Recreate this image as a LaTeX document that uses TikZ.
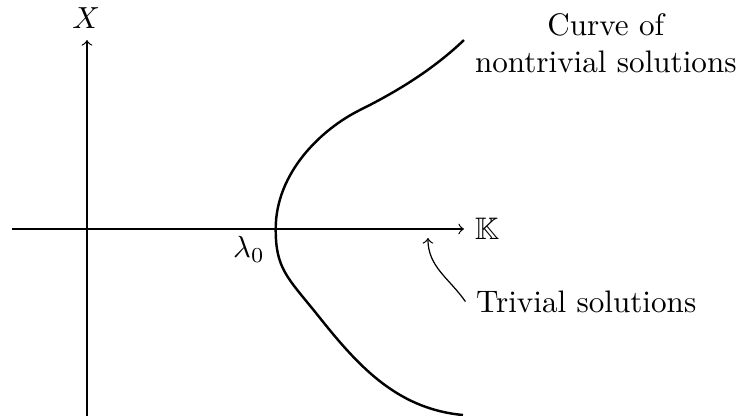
\documentclass[tikz,border=0pt]{standalone}
\usepackage{amssymb}
\usepackage{tikz}
\usetikzlibrary{positioning}
\tikzset{
  axis/.style={->, line width=0.4pt},
  branch/.style={line width=0.8pt},
  lbl/.style={font=\fontsize{10.2pt}{12.2pt}\selectfont},
  pointer/.style={->, line width=0.4pt},
}

\begin{document}
\begin{tikzpicture}[x=1cm, y=1cm]
  \useasboundingbox (-1.002,-2.154) rectangle (7.523,2.638);
  % axes
  \node[lbl] (xlab) at (-0.01,2.43) {$X$};
  \draw[axis] (0,-2.154) -- (0,2.177);
  \draw[axis] (-0.864,0) -- (4.343,0) node[lbl, right] (klab) {$\mathbb{K}$};
  % trivial branch and bifurcating curve
  \coordinate (bif) at (2.174,0);
  \draw[branch] (-0.691,0) -- (4.18,0);
  \draw[branch] (4.332,-2.143) .. controls (3.55,-2.07) and (3.1,-1.55) .. (2.64,-0.97)
    .. controls (2.3,-0.55) and (2.174,-0.45) .. (bif)
    .. controls (2.174,0.65) and (2.7,1.15) .. (3.145,1.371)
    .. controls (3.6,1.597) and (4.0,1.85) .. (4.343,2.177);
  \node[lbl] (lam) at (1.866,-0.236) {$\lambda_0$};
  % labels
  \node[lbl, align=center] (nontriv) at (5.977,2.14) {Curve of\\nontrivial solutions};
  \node[lbl, anchor=west] (triv) at (4.36,-0.836) {Trivial solutions};
  \coordinate (tip) at (3.928,-0.104);
  \draw[pointer] (triv.west) to[out=125, in=-90] (tip);
\end{tikzpicture}
\end{document}
